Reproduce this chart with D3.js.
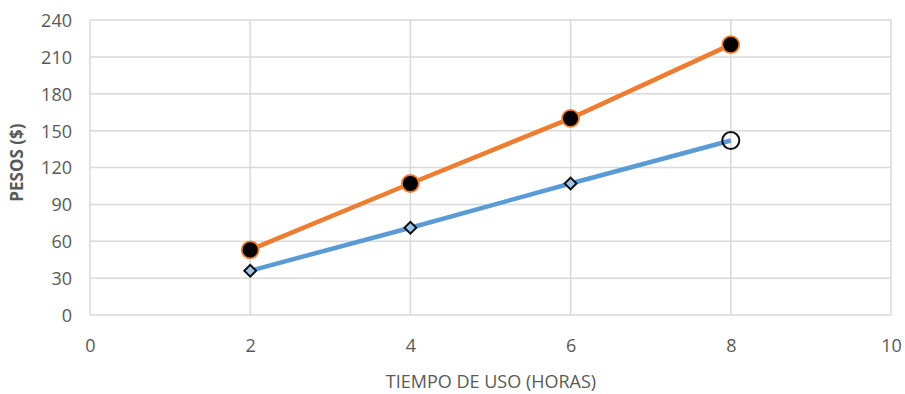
<!DOCTYPE html>
<html>
<head>
<meta charset="utf-8">
<script src="https://cdn.jsdelivr.net/npm/d3@7"></script>
<style>
  body { margin: 0; background: #fff; }
  svg { display: block; }
  text { font-family: "Open Sans", sans-serif; fill: #595959; }
</style>
</head>
<body>
<svg id="chart" width="905" height="394"></svg>
<script>
// Hours of use and cost in pesos for two rates
const horas = [2, 4, 6, 8];
const costoAlto = [53, 107, 160, 220];
const costoBajo = [36, 71, 107, 142];
const xTicks = [0, 2, 4, 6, 8, 10];
const yTicks = [0, 30, 60, 90, 120, 150, 180, 210, 240];

const svg = d3.select("#chart");
const m = { left: 90, right: 14, top: 20, bottom: 79 };
const W = 905, H = 394;

const x = d3.scaleLinear().domain([0, 10]).range([m.left, W - m.right]);
const y = d3.scaleLinear().domain([0, 240]).range([H - m.bottom, m.top]);

// Grid
const grid = svg.append("g").attr("stroke", "#d9d9d9").attr("stroke-width", 1.5);
grid.selectAll("line.h").data(yTicks).join("line")
  .attr("x1", x(0)).attr("x2", x(10))
  .attr("y1", d => y(d)).attr("y2", d => y(d));
grid.selectAll("line.v").data(xTicks).join("line")
  .attr("y1", y(0)).attr("y2", y(240))
  .attr("x1", d => x(d)).attr("x2", d => x(d));

// Axis tick labels
const yAxis = svg.append("g").attr("transform", `translate(${x(0) - 18},0)`)
  .call(d3.axisLeft(y).tickValues(yTicks).tickSize(0).tickPadding(0));
yAxis.select(".domain").remove();
yAxis.selectAll("text").style("font-size", "18px").attr("dy", "0.36em");

const xAxis = svg.append("g").attr("transform", `translate(0,${y(0) + 23})`)
  .call(d3.axisBottom(x).tickValues(xTicks).tickSize(0).tickPadding(0));
xAxis.select(".domain").remove();
xAxis.selectAll("text").style("font-size", "18px").attr("dy", "0.75em");

// Axis titles
svg.append("text")
  .attr("transform", `translate(23,${y(124)}) rotate(-90)`)
  .attr("text-anchor", "middle")
  .style("font-size", "17px").style("font-weight", "bold")
  .text("PESOS ($)");
svg.append("text")
  .attr("x", 491).attr("y", 388)
  .attr("text-anchor", "middle")
  .style("font-size", "18px")
  .text("TIEMPO DE USO (HORAS)");

const line = d3.line().x(d => x(d[0])).y(d => y(d[1]));
const alto = horas.map((h, i) => [h, costoAlto[i]]);
const bajo = horas.map((h, i) => [h, costoBajo[i]]);

// Lines
svg.append("path").datum(bajo).attr("d", line)
  .attr("fill", "none").attr("stroke", "#5b9bd5").attr("stroke-width", 4.5);
svg.append("path").datum(alto).attr("d", line)
  .attr("fill", "none").attr("stroke", "#ed7d31").attr("stroke-width", 4.5);

// Lower series markers: diamonds, last point an open circle
svg.selectAll("path.dia").data(bajo.slice(0, 3)).join("path")
  .attr("d", d3.symbol().type(d3.symbolSquare).size(70))
  .attr("transform", d => `translate(${x(d[0])},${y(d[1])}) rotate(45)`)
  .attr("fill", "#9dc3e6").attr("stroke", "#111").attr("stroke-width", 2);
svg.selectAll("circle.open").data(bajo.slice(3)).join("circle")
  .attr("cx", d => x(d[0])).attr("cy", d => y(d[1])).attr("r", 8.5)
  .attr("fill", "none").attr("stroke", "#111").attr("stroke-width", 2);

// Upper series markers: black dots with orange rim
svg.selectAll("circle.dot").data(alto).join("circle")
  .attr("cx", d => x(d[0])).attr("cy", d => y(d[1])).attr("r", 8.5)
  .attr("fill", "#000").attr("stroke", "#ed7d31").attr("stroke-width", 1.8);
</script>
</body>
</html>
